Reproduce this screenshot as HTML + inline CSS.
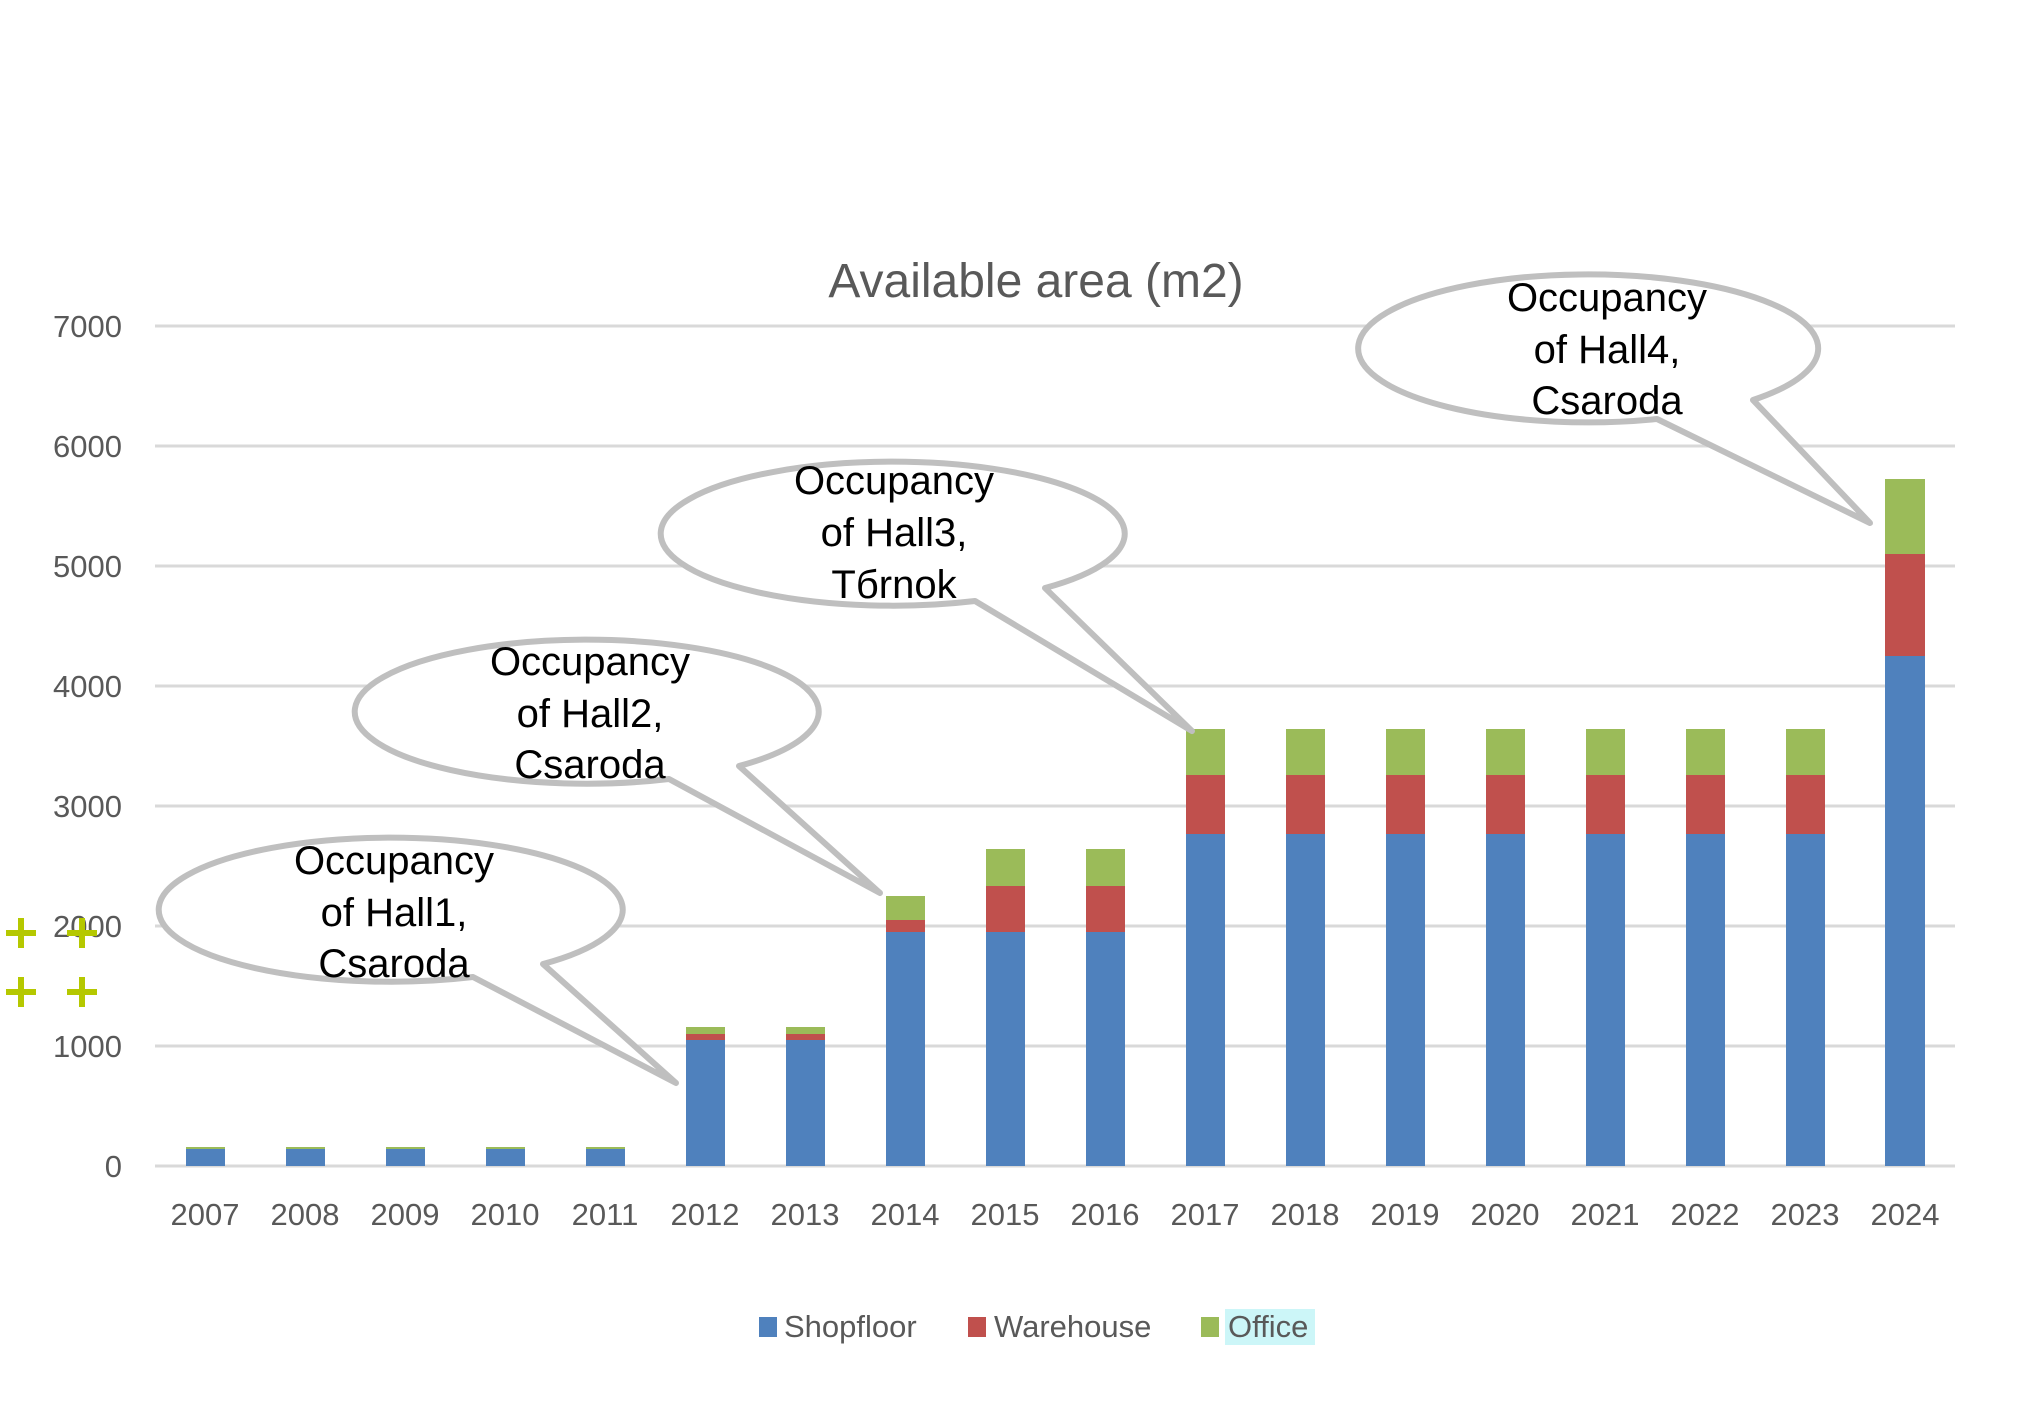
<!DOCTYPE html>
<html><head><meta charset="utf-8"><style>
html,body{margin:0;padding:0;background:#fff}
svg{display:block}
text{font-family:"Liberation Sans",sans-serif}
</style></head><body>
<svg width="2042" height="1424" viewBox="0 0 2042 1424" xmlns="http://www.w3.org/2000/svg">
<rect width="2042" height="1424" fill="#fff"/>
<g stroke="#d9d9d9" stroke-width="3">
<line x1="155" y1="326" x2="1955" y2="326"/>
<line x1="155" y1="446" x2="1955" y2="446"/>
<line x1="155" y1="566" x2="1955" y2="566"/>
<line x1="155" y1="686" x2="1955" y2="686"/>
<line x1="155" y1="806" x2="1955" y2="806"/>
<line x1="155" y1="926" x2="1955" y2="926"/>
<line x1="155" y1="1046" x2="1955" y2="1046"/>
<line x1="155" y1="1166" x2="1955" y2="1166"/>
</g>
<g fill="#595959" font-size="31" text-anchor="end">
<text x="122" y="337">7000</text>
<text x="122" y="457">6000</text>
<text x="122" y="577">5000</text>
<text x="122" y="697">4000</text>
<text x="122" y="817">3000</text>
<text x="122" y="937">2000</text>
<text x="122" y="1057">1000</text>
<text x="122" y="1177">0</text>
</g>
<text x="1036" y="297" font-size="48" fill="#595959" text-anchor="middle">Available area (m2)</text>
<g fill="#4f81bd">
<rect x="186" y="1149" width="39" height="17"/>
<rect x="286" y="1149" width="39" height="17"/>
<rect x="386" y="1149" width="39" height="17"/>
<rect x="486" y="1149" width="39" height="17"/>
<rect x="586" y="1149" width="39" height="17"/>
</g>
<g fill="#9bbb59">
<rect x="186" y="1147" width="39" height="2"/>
<rect x="286" y="1147" width="39" height="2"/>
<rect x="386" y="1147" width="39" height="2"/>
<rect x="486" y="1147" width="39" height="2"/>
<rect x="586" y="1147" width="39" height="2"/>
</g>
<rect x="686" y="1040" width="39" height="126" fill="#4f81bd"/>
<rect x="686" y="1034" width="39" height="6" fill="#c0504d"/>
<rect x="686" y="1027" width="39" height="7" fill="#9bbb59"/>
<rect x="786" y="1040" width="39" height="126" fill="#4f81bd"/>
<rect x="786" y="1034" width="39" height="6" fill="#c0504d"/>
<rect x="786" y="1027" width="39" height="7" fill="#9bbb59"/>
<rect x="886" y="932" width="39" height="234" fill="#4f81bd"/>
<rect x="886" y="920" width="39" height="12" fill="#c0504d"/>
<rect x="886" y="896" width="39" height="24" fill="#9bbb59"/>
<rect x="986" y="932" width="39" height="234" fill="#4f81bd"/>
<rect x="986" y="886" width="39" height="46" fill="#c0504d"/>
<rect x="986" y="849" width="39" height="37" fill="#9bbb59"/>
<rect x="1086" y="932" width="39" height="234" fill="#4f81bd"/>
<rect x="1086" y="886" width="39" height="46" fill="#c0504d"/>
<rect x="1086" y="849" width="39" height="37" fill="#9bbb59"/>
<g>
<rect x="1186" y="834" width="39" height="332" fill="#4f81bd"/><rect x="1186" y="775" width="39" height="59" fill="#c0504d"/><rect x="1186" y="729" width="39" height="46" fill="#9bbb59"/>
<rect x="1286" y="834" width="39" height="332" fill="#4f81bd"/><rect x="1286" y="775" width="39" height="59" fill="#c0504d"/><rect x="1286" y="729" width="39" height="46" fill="#9bbb59"/>
<rect x="1386" y="834" width="39" height="332" fill="#4f81bd"/><rect x="1386" y="775" width="39" height="59" fill="#c0504d"/><rect x="1386" y="729" width="39" height="46" fill="#9bbb59"/>
<rect x="1486" y="834" width="39" height="332" fill="#4f81bd"/><rect x="1486" y="775" width="39" height="59" fill="#c0504d"/><rect x="1486" y="729" width="39" height="46" fill="#9bbb59"/>
<rect x="1586" y="834" width="39" height="332" fill="#4f81bd"/><rect x="1586" y="775" width="39" height="59" fill="#c0504d"/><rect x="1586" y="729" width="39" height="46" fill="#9bbb59"/>
<rect x="1686" y="834" width="39" height="332" fill="#4f81bd"/><rect x="1686" y="775" width="39" height="59" fill="#c0504d"/><rect x="1686" y="729" width="39" height="46" fill="#9bbb59"/>
<rect x="1786" y="834" width="39" height="332" fill="#4f81bd"/><rect x="1786" y="775" width="39" height="59" fill="#c0504d"/><rect x="1786" y="729" width="39" height="46" fill="#9bbb59"/>
</g>
<rect x="1885" y="656" width="40" height="510" fill="#4f81bd"/>
<rect x="1885" y="554" width="40" height="102" fill="#c0504d"/>
<rect x="1885" y="479" width="40" height="75" fill="#9bbb59"/>
<g fill="#595959" font-size="31" text-anchor="middle">
<text x="205" y="1240" dy="-15">2007</text><text x="305" y="1225">2008</text><text x="405" y="1225">2009</text>
<text x="505" y="1225">2010</text><text x="605" y="1225">2011</text><text x="705" y="1225">2012</text>
<text x="805" y="1225">2013</text><text x="905" y="1225">2014</text><text x="1005" y="1225">2015</text>
<text x="1105" y="1225">2016</text><text x="1205" y="1225">2017</text><text x="1305" y="1225">2018</text>
<text x="1405" y="1225">2019</text><text x="1505" y="1225">2020</text><text x="1605" y="1225">2021</text>
<text x="1705" y="1225">2022</text><text x="1805" y="1225">2023</text><text x="1905" y="1225">2024</text>
</g>
<rect x="759" y="1317" width="18" height="20" fill="#4f81bd"/>
<text x="784" y="1337" font-size="31" fill="#595959">Shopfloor</text>
<rect x="968" y="1317" width="18" height="20" fill="#c0504d"/>
<text x="994" y="1337" font-size="31" fill="#595959">Warehouse</text>
<rect x="1201" y="1317" width="18" height="20" fill="#9bbb59"/>
<rect x="1225" y="1309" width="90" height="36" fill="#ccf6f8"/>
<text x="1228" y="1337" font-size="31" fill="#595959">Office</text>
<g stroke="#b5c800" stroke-width="6">
<line x1="6" y1="933" x2="36" y2="933"/><line x1="21" y1="918" x2="21" y2="948"/>
<line x1="67" y1="933" x2="97" y2="933"/><line x1="82" y1="918" x2="82" y2="948"/>
<line x1="6" y1="992" x2="36" y2="992"/><line x1="21" y1="977" x2="21" y2="1007"/>
<line x1="67" y1="992" x2="97" y2="992"/><line x1="82" y1="977" x2="82" y2="1007"/>
</g>
<g stroke="#bfbfbf" stroke-width="6" fill="#fff" stroke-linejoin="round">
<path d="M543,964 L676,1083 L473,977 A232 72 0 1 1 543,964 Z"/>
<path d="M739,766 L880,893 L669,779 A232 72 0 1 1 739,766 Z"/>
<path d="M1045,588 L1192,731 L975,601 A232 72 0 1 1 1045,588 Z"/>
<path d="M1753,400 L1870,523 L1657,419 A230 74 0 1 1 1753,400 Z"/>
</g>
<g font-size="40" fill="#000" text-anchor="middle">
<text x="394" y="874">Occupancy</text><text x="394" y="926">of Hall1,</text><text x="394" y="977">Csaroda</text>
<text x="590" y="675">Occupancy</text><text x="590" y="727">of Hall2,</text><text x="590" y="778">Csaroda</text>
<text x="894" y="494">Occupancy</text><text x="894" y="546">of Hall3,</text><text x="894" y="598">Tбrnok</text>
<text x="1607" y="311">Occupancy</text><text x="1607" y="363">of Hall4,</text><text x="1607" y="414">Csaroda</text>
</g>
</svg>
</body></html>
